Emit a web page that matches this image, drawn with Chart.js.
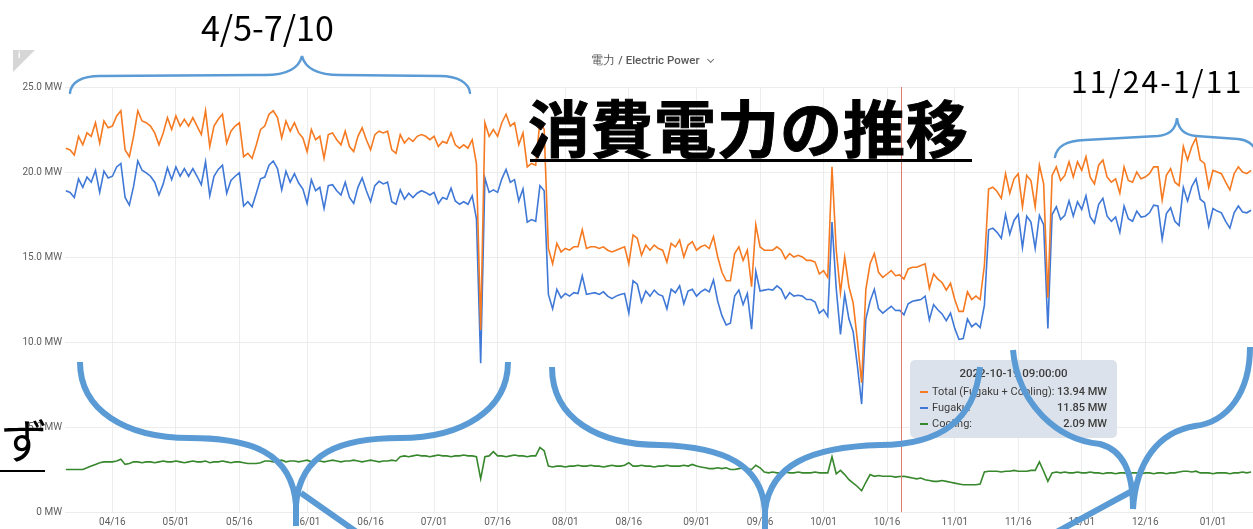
<!DOCTYPE html>
<html lang="ja">
<head>
<meta charset="utf-8">
<title>電力 / Electric Power</title>
<script src="https://cdn.jsdelivr.net/npm/chart.js@4.4.1/dist/chart.umd.min.js"></script>
<style>
  html, body { margin: 0; padding: 0; background: #fff; }
  #wrap { position: relative; width: 1253px; height: 529px; overflow: hidden; font-family: Roboto, "Noto Sans", sans-serif; }
  #power-chart { position: absolute; left: 0; top: 0; }
  #info-badge { position: absolute; left: 13px; top: 50px; width: 0; height: 0;
    border-top: 22px solid #d6d6d6; border-right: 22px solid transparent; }
  #info-badge span { position: absolute; left: 5px; top: -22px; font-size: 9px; color: #fff; font-weight: 700; }
  #panel-title { position: absolute; left: 0; width: 1302px; top: 52px; text-align: center;
    font-size: 11.5px; font-weight: 500; color: #5a5a5a; line-height: 16px; }
  #panel-title i { display: inline-block; width: 4px; height: 4px; margin-left: 6px; border-right: 1px solid #777;
    border-bottom: 1px solid #777; transform: rotate(45deg) translateY(-3px); }
  #hover-box { position: absolute; left: 910px; top: 360px; width: 207px; height: 78px;
    background: rgba(219, 225, 234, 0.96); border-radius: 5px; font-size: 11px; color: #3c3c3c; }
  #hover-box .hb-title { position: absolute; left: 0; right: 0; top: 6px; text-align: center; font-weight: 500;
    font-size: 11.5px; line-height: 15px; }
  #hover-box .hb-row { position: absolute; left: 10px; right: 10px; height: 16px; line-height: 16px; }
  #hover-box .hb-mark { position: absolute; left: 0; top: 7px; width: 8px; height: 2px; }
  #hover-box .hb-name { position: absolute; left: 12px; }
  #hover-box .hb-val { position: absolute; right: 0; font-weight: 500; }
  #marks { position: absolute; left: 0; top: 0; }
  .note { position: absolute; white-space: nowrap; color: #000; font-family: "Noto Sans CJK JP", sans-serif; line-height: 1; }
  #note-left-range { left: 201px; top: 10px; font-size: 34px; letter-spacing: 0; }
  #note-right-range { left: 1071px; top: 65px; font-size: 30px; letter-spacing: 2.2px; }
  #note-heading { left: 528px; top: 95px; font-size: 62px; font-weight: 700; letter-spacing: 1px; -webkit-text-stroke: 1px #000; }
  #note-heading-line { position: absolute; left: 530px; top: 159px; width: 442px; height: 3px; background: #000; }
  #note-side { left: 1px; top: 414px; font-size: 47px; }
  #note-side-line { position: absolute; left: 0; top: 470px; width: 45px; height: 2px; background: #000; }
</style>
</head>
<body>
<div id="wrap">
  <canvas id="power-chart" width="1253" height="529"></canvas>
  <div id="info-badge"><span>i</span></div>
  <div id="panel-title">電力 / Electric Power<i></i></div>
  <div id="hover-box"></div>
  <svg id="marks" width="1253" height="529" viewBox="0 0 1253 529">
    <g fill="none" stroke="#5b9bd5">
      <path stroke-width="2.5" stroke-linecap="round" d="M70,93 C71,82 82,76 100,76 L265,75 C287,75 299,68 302,56 C305,68 317,75 340,75 L440,76 C458,76 469,83 470,93"/>
      <path stroke-width="2.5" stroke-linecap="round" d="M1055,157 C1057,146 1066,141 1085,140 L1158,136 C1170,135 1176,128 1177,118 C1178,128 1184,135 1196,136 L1238,139 C1248,140 1252,144 1256,150"/>
      <path stroke-width="6" d="M80,362 C80,410 125,438 190,438 C250,438 292,452 296,505 L296,526 M508,362 C508,410 462,438 400,438 C342,438 300,452 296,505 M301,493 L368,540"/>
      <path stroke-width="6" d="M552,367 C552,420 600,445 660,445 C725,447 762,465 765,511 L765,535 M980,367 C975,420 940,445 880,445 C810,447 770,465 765,511"/>
      <path stroke-width="6" d="M1013,350 C1018,405 1058,440 1100,444 C1122,450 1133,470 1133,509 M1250,347 C1250,392 1228,422 1195,426 C1158,432 1136,462 1133,509 M1134,490 L1040,541"/>
    </g>
  </svg>
  <div class="note" id="note-left-range">4/5-7/10</div>
  <div class="note" id="note-right-range">11/24-1/11</div>
  <div class="note" id="note-heading">消費電力の推移</div>
  <div id="note-heading-line"></div>
  <div class="note" id="note-side">ず</div>
  <div id="note-side-line"></div>
</div>
<script>
// Day numbers are counted from 2022-04-01 (day 0); one value per day.
const START_DAY = 4;

const TICK_DAYS = [15, 30, 45, 61, 76, 91, 106, 122, 137, 153, 168, 183, 198, 214, 229, 244, 259, 275];
const TICK_LABELS = ['04/16', '05/01', '05/16', '06/01', '06/16', '07/01', '07/16', '08/01', '08/16',
  '09/01', '09/16', '10/01', '10/16', '11/01', '11/16', '12/01', '12/16', '01/01'];

const SERIES_NAMES = ['Total (Fugaku + Cooling):', 'Fugaku:', 'Cooling:'];
const SERIES_COLORS = ['#f57a21', '#3f78d6', '#37872d'];

// Total (Fugaku + Cooling), MW
const TOTAL_MW = [
  21.4, 21.3, 21.0, 22.1, 21.6, 22.3, 22.1, 22.9, 21.7, 23.0,
  22.6, 22.7, 23.3, 23.6, 21.3, 20.9, 22.1, 23.6, 23.0, 22.9,
  22.7, 22.3, 21.6, 22.3, 23.2, 22.5, 23.3, 22.7, 23.1, 22.7,
  23.2, 22.7, 22.2, 23.6, 21.5, 22.7, 23.1, 23.4, 21.7, 22.4,
  22.7, 22.9, 20.9, 21.1, 20.8, 21.6, 22.5, 22.7, 23.4, 23.6,
  23.2, 22.0, 23.0, 22.4, 22.9, 22.3, 22.0, 21.2, 22.5, 21.9,
  22.1, 20.8, 22.2, 22.3, 21.9, 21.6, 22.4, 21.5, 21.2, 22.1,
  22.6, 21.9, 21.3, 22.2, 22.4, 22.3, 22.4, 21.3, 21.1, 22.2,
  21.7, 22.0, 21.8, 22.1, 22.2, 22.1, 21.9, 22.1, 21.5, 21.8,
  21.7, 22.3, 21.6, 21.4, 21.6, 21.4, 21.9, 20.5, 10.7, 22.9,
  22.1, 22.5, 22.1, 22.9, 23.4, 22.7, 22.9, 21.6, 22.3, 20.3,
  20.5, 20.4, 23.0, 22.5, 15.5, 14.6, 15.8, 15.3, 15.5, 15.4,
  15.6, 15.6, 16.6, 15.5, 15.6, 15.6, 15.5, 15.6, 15.4, 15.3,
  15.4, 15.5, 15.6, 14.6, 16.3, 16.1, 15.1, 15.7, 15.4, 15.7,
  15.5, 15.4, 14.7, 15.8, 15.6, 16.0, 15.0, 15.7, 15.9, 15.4,
  15.6, 15.7, 15.5, 16.2, 15.0, 14.1, 13.6, 13.6, 15.2, 15.6,
  14.8, 15.4, 13.25, 16.9, 15.6, 15.4, 15.4, 15.4, 15.6, 15.4,
  14.9, 15.2, 15.0, 15.1, 15.0, 14.8, 14.8, 14.7, 14.0, 14.2,
  13.8, 20.3, 15.4, 12.9, 15.0, 13.25, 12.3, 10.1, 7.6, 13.1,
  14.6, 15.2, 14.1, 13.8, 14.0, 14.2, 13.9, 13.95, 13.7, 14.3,
  14.4, 14.4, 14.5, 14.6, 13.15, 14.0, 13.7, 13.5, 13.05, 13.45,
  12.5, 11.8, 11.8, 12.95, 12.5, 12.7, 12.5, 14.5, 19.0, 19.1,
  18.85, 18.45, 19.9, 18.75, 19.6, 19.9, 17.95, 19.8, 19.5, 17.95,
  20.4, 19.3, 12.6, 19.8, 20.3, 19.5, 19.8, 20.6, 19.7, 20.6,
  20.1, 20.9, 19.7, 19.3, 20.4, 20.7, 19.7, 19.4, 19.6, 18.75,
  20.3, 19.5, 19.4, 20.0, 19.6, 19.7, 19.9, 20.3, 20.3, 18.35,
  19.8, 20.2, 19.4, 19.2, 21.5, 20.7, 21.5, 22.0, 20.7, 20.5,
  19.1, 20.1, 20.0, 19.9, 19.4, 18.95, 19.9, 20.3, 20.0, 19.9,
  20.1
];

// Fugaku, MW
const FUGAKU_MW = [
  18.9, 18.8, 18.5, 19.6, 19.1, 19.7, 19.4, 20.1, 18.8, 20.05,
  19.65, 19.75, 20.3, 20.5, 18.5, 18.05, 19.15, 20.65, 20.1, 19.95,
  19.75, 19.4, 18.65, 19.3, 20.25, 19.55, 20.3, 19.75, 20.2, 19.75,
  20.2, 19.75, 19.25, 20.6, 18.6, 19.75, 20.15, 20.4, 18.75, 19.5,
  19.75, 19.95, 18.0, 18.25, 17.95, 18.75, 19.6, 19.7, 20.4, 20.65,
  20.2, 18.95, 20.05, 19.4, 19.9, 19.35, 19.0, 18.15, 19.55, 18.9,
  19.1, 17.85, 19.2, 19.25, 18.9, 18.65, 19.4, 18.5, 18.15, 19.1,
  19.65, 18.9, 18.25, 19.2, 19.45, 19.3, 19.4, 18.25, 18.1, 18.95,
  18.4, 18.75, 18.5, 18.75, 18.9, 18.8, 18.65, 18.8, 18.15, 18.5,
  18.4, 19.05, 18.3, 18.1, 18.25, 18.1, 18.6, 17.25, 8.75, 19.65,
  18.8, 18.95, 18.8, 19.6, 20.15, 19.4, 19.55, 18.3, 19.0, 17.05,
  17.2, 17.1, 19.2, 18.9, 12.8, 11.95, 13.1, 12.6, 12.85, 12.7,
  12.9, 12.85, 13.9, 12.8, 12.85, 12.9, 12.8, 12.95, 12.7, 12.55,
  12.7, 12.8, 12.85, 11.7, 13.6, 13.4, 12.35, 13.0, 12.7, 13.05,
  12.8, 12.7, 11.95, 13.1, 12.9, 13.3, 12.25, 13.0, 13.1, 12.7,
  12.95, 13.1, 12.95, 13.65, 12.4, 11.55, 11.0, 11.1, 12.7, 13.05,
  12.2, 12.85, 10.75, 14.15, 13.0, 13.05, 13.1, 13.05, 13.3, 13.1,
  12.55, 12.9, 12.7, 12.75, 12.7, 12.5, 12.5, 12.35, 11.7, 11.9,
  11.5, 17.05, 13.15, 10.45, 12.8, 11.35, 10.6, 8.6, 6.35, 11.35,
  12.4, 13.1, 11.95, 11.7, 11.9, 12.1, 11.85, 11.86, 11.6, 12.25,
  12.4, 12.45, 12.5, 12.7, 11.3, 12.2, 11.9, 11.65, 11.25, 11.7,
  10.8, 10.15, 10.2, 11.35, 10.9, 11.1, 10.85, 12.15, 16.6, 16.7,
  16.45, 16.1, 17.5, 16.35, 17.15, 17.5, 15.55, 17.4, 17.05, 15.5,
  17.45, 16.9, 10.8, 17.5, 17.95, 17.2, 17.45, 18.3, 17.4, 18.25,
  17.8, 18.6, 17.35, 17.0, 18.1, 18.45, 17.4, 17.1, 17.35, 16.45,
  18.0, 17.25, 17.1, 17.7, 17.35, 17.4, 17.6, 18.05, 18.0, 16.05,
  17.55, 17.9, 17.1, 16.85, 19.1, 18.3, 19.15, 19.6, 18.4, 18.2,
  16.8, 17.85, 17.7, 17.6, 17.1, 16.7, 17.6, 18.0, 17.65, 17.6,
  17.75
];

// Cooling, MW
const COOLING_MW = [
  2.5, 2.5, 2.5, 2.5, 2.5, 2.6, 2.7, 2.8, 2.9, 2.95,
  2.95, 2.95, 3.0, 3.1, 2.8, 2.85, 2.95, 2.95, 2.9, 2.95,
  2.95, 2.9, 2.95, 3.0, 2.95, 2.95, 3.0, 2.95, 2.9, 2.95,
  3.0, 2.95, 2.95, 3.0, 2.9, 2.95, 2.95, 3.0, 2.95, 2.9,
  2.95, 2.95, 2.9, 2.85, 2.85, 2.85, 2.9, 3.0, 3.0, 2.95,
  3.0, 3.05, 2.95, 3.0, 3.0, 2.95, 3.0, 3.05, 2.95, 3.0,
  3.0, 2.95, 3.0, 3.05, 3.0, 2.95, 3.0, 3.0, 3.05, 3.0,
  2.95, 3.0, 3.05, 3.0, 2.95, 3.0, 3.0, 3.05, 3.0, 3.25,
  3.3, 3.25, 3.3, 3.35, 3.3, 3.3, 3.25, 3.3, 3.35, 3.3,
  3.3, 3.25, 3.3, 3.3, 3.35, 3.3, 3.3, 3.25, 1.95, 3.25,
  3.3, 3.55, 3.3, 3.3, 3.25, 3.3, 3.35, 3.3, 3.3, 3.25,
  3.3, 3.3, 3.8, 3.6, 2.7, 2.65, 2.7, 2.7, 2.65, 2.7,
  2.7, 2.75, 2.7, 2.7, 2.75, 2.7, 2.7, 2.65, 2.7, 2.75,
  2.7, 2.7, 2.75, 2.9, 2.7, 2.7, 2.75, 2.7, 2.7, 2.65,
  2.7, 2.7, 2.75, 2.7, 2.7, 2.7, 2.75, 2.7, 2.8, 2.7,
  2.65, 2.6, 2.55, 2.55, 2.6, 2.55, 2.6, 2.5, 2.5, 2.55,
  2.6, 2.55, 2.5, 2.75, 2.6, 2.35, 2.3, 2.35, 2.3, 2.3,
  2.35, 2.3, 2.3, 2.35, 2.3, 2.3, 2.3, 2.35, 2.3, 2.3,
  2.3, 3.25, 2.25, 2.45, 2.2, 1.9, 1.7, 1.5, 1.25, 1.75,
  2.2, 2.1, 2.15, 2.1, 2.1, 2.1, 2.05, 2.09, 2.1, 2.05,
  2.0, 1.95, 2.0, 1.9, 1.85, 1.8, 1.8, 1.85, 1.8, 1.75,
  1.7, 1.65, 1.6, 1.6, 1.6, 1.6, 1.65, 2.35, 2.4, 2.4,
  2.4, 2.35, 2.4, 2.4, 2.45, 2.4, 2.4, 2.4, 2.45, 2.45,
  2.95, 2.4, 1.8, 2.3, 2.35, 2.3, 2.35, 2.3, 2.3, 2.35,
  2.3, 2.3, 2.35, 2.3, 2.3, 2.25, 2.3, 2.3, 2.25, 2.3,
  2.3, 2.25, 2.3, 2.3, 2.25, 2.3, 2.3, 2.25, 2.3, 2.3,
  2.25, 2.3, 2.3, 2.35, 2.4, 2.4, 2.35, 2.4, 2.3, 2.3,
  2.3, 2.25, 2.3, 2.3, 2.3, 2.25, 2.3, 2.3, 2.35, 2.3,
  2.35
];

// Hover readout shown in the tooltip (2022-10-19 09:00)
const HOVER_DAY = 201.375;
const HOVER_LABEL = '2022-10-19 09:00:00';
const HOVER_VALUES = [13.94, 11.85, 2.09];

// Visible time window in days
const X_MIN_DAY = 3.8;
const X_MAX_DAY = 284.46;

function toPoints(values) {
  return values.map((y, i) => ({ x: START_DAY + i, y }));
}

/**
 * Draws the red hover crosshair at HOVER_DAY.
 */
const crosshair = {
  id: 'crosshair',
  afterDatasetsDraw(chart) {
    const { ctx, chartArea, scales } = chart;
    const x = Math.round(scales.x.getPixelForValue(HOVER_DAY)) + 0.5;
    ctx.save();
    ctx.strokeStyle = '#e07b70';
    ctx.lineWidth = 1;
    ctx.beginPath();
    ctx.moveTo(x, chartArea.top);
    ctx.lineTo(x, chartArea.bottom);
    ctx.stroke();
    ctx.restore();
  }
};

function fillHoverBox() {
  const box = document.getElementById('hover-box');
  let html = `<div class="hb-title">${HOVER_LABEL}</div>`;
  SERIES_NAMES.forEach((name, i) => {
    html += `<div class="hb-row" style="top:${24 + i * 16}px">
      <span class="hb-mark" style="background:${SERIES_COLORS[i]}"></span>
      <span class="hb-name">${name}</span>
      <span class="hb-val">${HOVER_VALUES[i].toFixed(2)} MW</span></div>`;
  });
  box.innerHTML = html;
}

const lineStyle = color => ({
  borderColor: color,
  backgroundColor: color,
  borderWidth: 1.6,
  pointRadius: 0,
  tension: 0,
  fill: false
});

new Chart(document.getElementById('power-chart'), {
  type: 'line',
  data: {
    datasets: [
      { label: SERIES_NAMES[0], data: toPoints(TOTAL_MW), ...lineStyle(SERIES_COLORS[0]) },
      { label: SERIES_NAMES[1], data: toPoints(FUGAKU_MW), ...lineStyle(SERIES_COLORS[1]) },
      { label: SERIES_NAMES[2], data: toPoints(COOLING_MW), ...lineStyle(SERIES_COLORS[2]) }
    ]
  },
  options: {
    responsive: false,
    animation: false,
    devicePixelRatio: 1,
    layout: { padding: { top: 87, right: 0, bottom: 0, left: 0 } },
    plugins: { legend: { display: false }, tooltip: { enabled: false } },
    events: [],
    scales: {
      x: {
        type: 'linear',
        min: X_MIN_DAY,
        max: X_MAX_DAY,
        afterBuildTicks: s => { s.ticks = TICK_DAYS.map(v => ({ value: v })); },
        afterFit: s => { s.height = 17; },
        grid: { color: '#ececec', drawTicks: false },
        border: { display: false },
        ticks: {
          autoSkip: false,
          maxRotation: 0,
          padding: 4,
          color: '#5e5e5e',
          font: { family: 'Roboto', size: 10 },
          callback: (v, i) => TICK_LABELS[i]
        }
      },
      y: {
        min: 0,
        max: 25,
        afterFit: s => { s.width = 65; },
        grid: { color: '#ececec', drawTicks: false },
        border: { display: false },
        ticks: {
          stepSize: 5,
          padding: 3,
          color: '#5e5e5e',
          font: { family: 'Roboto', size: 10 },
          callback: v => (v === 0 ? '0 MW' : v.toFixed(1) + ' MW')
        }
      }
    }
  },
  plugins: [crosshair]
});

fillHoverBox();
</script>
</body>
</html>
